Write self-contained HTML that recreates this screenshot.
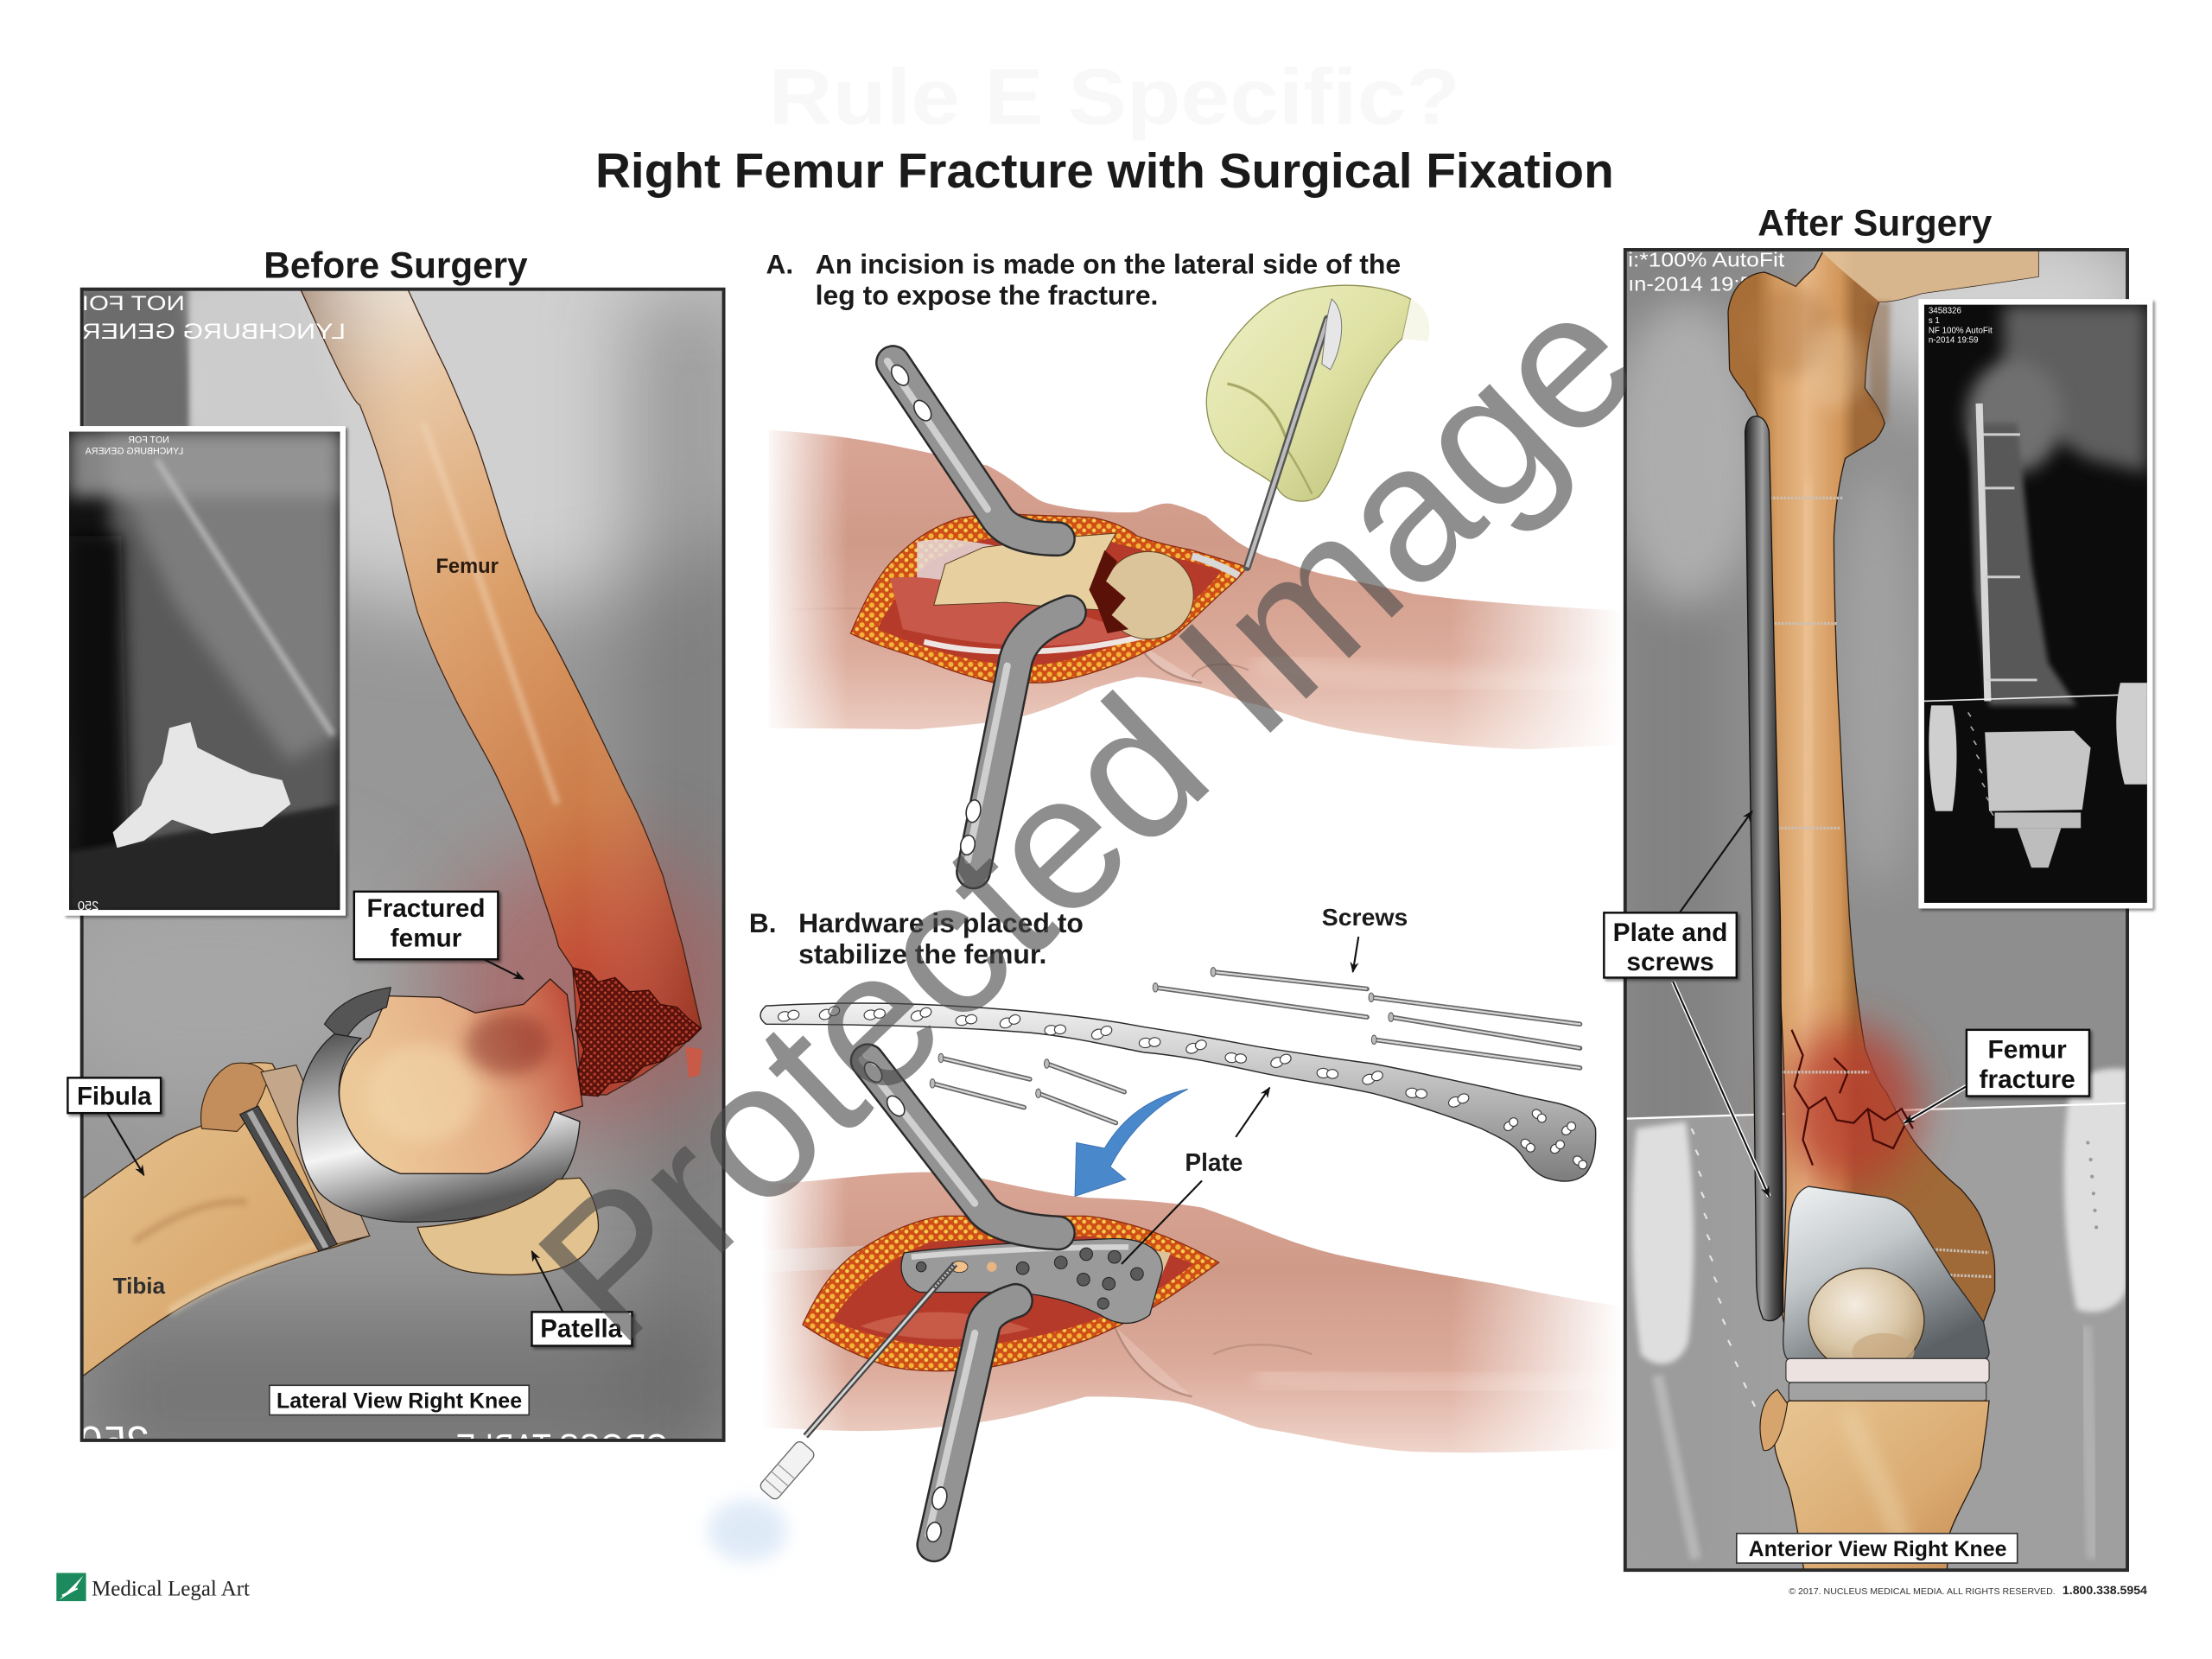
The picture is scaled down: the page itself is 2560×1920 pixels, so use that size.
<!DOCTYPE html>
<html><head><meta charset="utf-8"><style>
html,body{margin:0;padding:0;background:#fff;}
svg{display:block;}
text{font-family:"Liberation Sans",Arial,sans-serif;}
</style></head><body>
<svg width="2560" height="1920" viewBox="0 0 1568 1176" xmlns="http://www.w3.org/2000/svg">
<defs>
  <marker id="ah" viewBox="0 0 10 10" refX="9" refY="5" markerWidth="6" markerHeight="6" orient="auto"><path d="M0,1 L10,5 L0,9 L3,5 Z" fill="#111"/></marker>
  <filter id="b2" x="-20%" y="-20%" width="140%" height="140%"><feGaussianBlur stdDeviation="2"/></filter>
  <filter id="b6" x="-30%" y="-30%" width="160%" height="160%"><feGaussianBlur stdDeviation="6"/></filter>
  <filter id="b15" x="-50%" y="-50%" width="200%" height="200%"><feGaussianBlur stdDeviation="15"/></filter>
  <filter id="b30" x="-80%" y="-80%" width="260%" height="260%"><feGaussianBlur stdDeviation="30"/></filter>
  <filter id="sh" x="-10%" y="-10%" width="130%" height="140%"><feDropShadow dx="1.5" dy="1.5" stdDeviation="1" flood-color="#000" flood-opacity="0.45"/></filter>

  <linearGradient id="gFemL" x1="250" y1="207" x2="450" y2="740" gradientUnits="userSpaceOnUse">
    <stop offset="0" stop-color="#ebe2d6"/><stop offset="0.14" stop-color="#e6c29c"/>
    <stop offset="0.4" stop-color="#da9c64"/><stop offset="0.7" stop-color="#cc7c48"/>
    <stop offset="0.88" stop-color="#c24e36"/><stop offset="1" stop-color="#b03a2a"/>
  </linearGradient>
  <linearGradient id="gFemLx" x1="0" y1="0" x2="1" y2="0">
    <stop offset="0" stop-color="#5a2a10" stop-opacity="0.4"/><stop offset="0.3" stop-color="#fff" stop-opacity="0.1"/>
    <stop offset="0.7" stop-color="#fff" stop-opacity="0"/><stop offset="1" stop-color="#5a2a10" stop-opacity="0.25"/>
  </linearGradient>
  <linearGradient id="gCond" x1="0" y1="0.3" x2="1" y2="0">
    <stop offset="0" stop-color="#ecc898"/><stop offset="0.5" stop-color="#e4ac84"/><stop offset="1" stop-color="#b83c2c"/>
  </linearGradient>
  <linearGradient id="gMetal" x1="0" y1="0" x2="0.35" y2="1">
    <stop offset="0" stop-color="#4a4a4a"/><stop offset="0.4" stop-color="#bcbcbc"/><stop offset="0.62" stop-color="#f4f4f4"/><stop offset="1" stop-color="#5a5a5a"/>
  </linearGradient>
  <linearGradient id="gMetal2" x1="0" y1="0" x2="0.6" y2="1">
    <stop offset="0" stop-color="#f0f2f3"/><stop offset="0.45" stop-color="#c3c8cb"/><stop offset="1" stop-color="#5c6165"/>
  </linearGradient>
  <linearGradient id="gTan" x1="0" y1="0" x2="1" y2="1">
    <stop offset="0" stop-color="#e8c592"/><stop offset="0.6" stop-color="#daab72"/><stop offset="1" stop-color="#c48a52"/>
  </linearGradient>
  <linearGradient id="gFemR" x1="1245" y1="0" x2="1315" y2="0" gradientUnits="userSpaceOnUse">
    <stop offset="0" stop-color="#a86e38"/><stop offset="0.2" stop-color="#d59c62"/><stop offset="0.5" stop-color="#e8b886"/><stop offset="0.85" stop-color="#d1965a"/><stop offset="1" stop-color="#a06a38"/>
  </linearGradient>
  <linearGradient id="gPlateR" x1="0" y1="0" x2="1" y2="0">
    <stop offset="0" stop-color="#1e1e1e"/><stop offset="0.45" stop-color="#a0a0a0"/><stop offset="0.7" stop-color="#585858"/><stop offset="1" stop-color="#1a1a1a"/>
  </linearGradient>
  <linearGradient id="gSkinA" x1="0" y1="0" x2="0" y2="1">
    <stop offset="0" stop-color="#d9a595"/><stop offset="0.35" stop-color="#d09a88"/><stop offset="0.7" stop-color="#dcab9b"/><stop offset="1" stop-color="#efd4ca"/>
  </linearGradient>
  <linearGradient id="gFadeH" x1="540" y1="0" x2="1150" y2="0" gradientUnits="userSpaceOnUse">
    <stop offset="0" stop-color="#000"/><stop offset="0.1" stop-color="#fff"/><stop offset="0.8" stop-color="#fff"/><stop offset="1" stop-color="#000"/>
  </linearGradient>
  <mask id="mFade" maskUnits="userSpaceOnUse" x="0" y="0" width="1568" height="1176"><rect x="530" y="280" width="630" height="850" fill="url(#gFadeH)"/></mask>
  <pattern id="fat" width="7" height="7" patternUnits="userSpaceOnUse">
    <rect width="7" height="7" fill="#cf4d16"/><circle cx="2" cy="2" r="1.9" fill="#f3b238"/><circle cx="5.5" cy="5" r="1.4" fill="#f7cf55"/>
  </pattern>
  <pattern id="spong" width="5" height="5" patternUnits="userSpaceOnUse">
    <rect width="5" height="5" fill="#5a120c"/><circle cx="1.5" cy="1.5" r="1.1" fill="#b23a2a"/><circle cx="4" cy="3.8" r="0.9" fill="#c84a34"/>
  </pattern>
  <linearGradient id="gGlove" x1="0" y1="0" x2="1" y2="1">
    <stop offset="0" stop-color="#eef0c6"/><stop offset="0.5" stop-color="#dfe2a4"/><stop offset="1" stop-color="#b8bb72"/>
  </linearGradient>
  <linearGradient id="gLongPlate" x1="0" y1="0" x2="0" y2="1">
    <stop offset="0" stop-color="#f2f2f2"/><stop offset="0.5" stop-color="#b9b9b9"/><stop offset="1" stop-color="#7c7c7c"/>
  </linearGradient>
  <radialGradient id="gPat" cx="0.4" cy="0.35" r="0.7">
    <stop offset="0" stop-color="#f4ece0"/><stop offset="0.6" stop-color="#d9c6a6"/><stop offset="1" stop-color="#b49872"/>
  </radialGradient>
  <clipPath id="cpL"><rect x="58" y="205" width="455" height="816"/></clipPath>
  <clipPath id="cpIL"><rect x="49" y="306" width="192" height="339"/></clipPath>
  <clipPath id="cpR"><rect x="1152" y="177" width="356" height="936"/></clipPath>
  <clipPath id="cpIR"><rect x="1364" y="216" width="158" height="424"/></clipPath>
</defs>

<rect width="1568" height="1176" fill="#fff"/>

<!-- faint top watermark -->
<text x="545" y="88" font-size="56" font-weight="bold" fill="#f8f8f8" textLength="490" lengthAdjust="spacingAndGlyphs">Rule E Specific?</text>

<!-- Titles -->
<text x="422" y="133" font-size="34.5" font-weight="bold" fill="#1a1a1a" textLength="722" lengthAdjust="spacingAndGlyphs">Right Femur Fracture with Surgical Fixation</text>
<text x="187" y="197" font-size="26" font-weight="bold" fill="#1a1a1a" textLength="187" lengthAdjust="spacingAndGlyphs">Before Surgery</text>
<text x="1246" y="167" font-size="26" font-weight="bold" fill="#1a1a1a" textLength="166" lengthAdjust="spacingAndGlyphs">After Surgery</text>

<!-- ================= LEFT PANEL ================= -->
<g clip-path="url(#cpL)">
  <rect x="58" y="205" width="455" height="816" fill="#979797"/>
  <ellipse cx="340" cy="270" rx="250" ry="160" fill="#d0d0d0" filter="url(#b30)"/>
  <ellipse cx="150" cy="700" rx="140" ry="90" fill="#a6a6a6" filter="url(#b30)"/>
  <rect x="58" y="205" width="76" height="100" fill="#6c6c6c" filter="url(#b2)"/>
  <polygon points="134,205 215,205 248,320 150,320" fill="#cccccc" filter="url(#b6)"/>
  <rect x="445" y="205" width="90" height="816" fill="#666" opacity="0.5" filter="url(#b30)"/>
  <rect x="58" y="930" width="455" height="120" fill="#5c5c5c" opacity="0.55" filter="url(#b30)"/>
  <ellipse cx="420" cy="700" rx="110" ry="100" fill="#b05858" opacity="0.6" filter="url(#b30)"/>

  <!-- tibia -->
  <path d="M58,850 C85,830 110,812 127,804 L143,798 C150,790 155,772 162,760 C168,754 180,752 193,754 L262,876 L237,884 C215,890 190,897 160,910 C125,926 95,948 58,976 Z" fill="url(#gTan)" stroke="#3a2410" stroke-width="0.8"/>
  <path d="M95,880 C125,860 150,850 175,852" stroke="#b07a48" stroke-width="5" fill="none" opacity="0.45" filter="url(#b2)"/>
  <path d="M120,930 C160,905 200,890 230,880" stroke="#f2dcb8" stroke-width="6" fill="none" opacity="0.5" filter="url(#b2)"/>
  <!-- fibula head -->
  <path d="M143,800 C140,780 150,760 165,754 C178,752 186,756 190,764 C186,780 178,792 168,802 Z" fill="#c48e5c" stroke="#3a2410" stroke-width="0.7"/>
  <!-- insert & tray -->
  <polygon points="185,760 210,755 262,876 238,882" fill="#c4a68a" stroke="#3a2a1a" stroke-width="0.7"/>
  <polygon points="170,790 183,784 239,882 226,887" fill="#4a4a4a" stroke="#1e1e1e" stroke-width="0.7"/>
  <polygon points="175,789 179,787 233,884 229,885" fill="#a8a8a8"/>
  <!-- condyle -->
  <path d="M262,735 C268,722 272,712 275,706 L312,707 L337,718 L371,712 L390,694 L402,705 L413,784 L393,790 C385,810 370,826 345,832 L284,832 C266,826 252,812 245,795 C236,775 240,752 262,735 Z" fill="url(#gCond)" stroke="#2a1a10" stroke-width="0.8"/>
  <ellipse cx="300" cy="775" rx="40" ry="35" fill="#f4dcb0" opacity="0.55" filter="url(#b6)"/>
  <ellipse cx="360" cy="740" rx="30" ry="22" fill="#7a1e14" opacity="0.45" filter="url(#b6)"/>
  <!-- flange -->
  <path d="M230,726 C238,712 255,703 277,700 L274,714 C262,718 250,726 244,739 Z" fill="#555" stroke="#1e1e1e" stroke-width="0.7"/>
  <!-- femoral component -->
  <path d="M237,733 C222,745 212,765 211,790 C210,812 215,830 226,845 C240,860 270,868 302,866 C335,866 368,858 388,846 C402,835 409,820 411,795 L393,788 C385,810 370,826 345,832 L284,832 C266,826 252,812 245,795 C236,775 240,752 256,736 Z" fill="url(#gMetal)" stroke="#1e1e1e" stroke-width="0.8"/>
  <!-- patella -->
  <path d="M296,870 C330,868 370,858 395,836 L411,835 C420,845 425,860 424,872 C420,885 414,892 400,898 C385,904 360,905 335,902 C316,899 302,890 296,870 Z" fill="#e2c28e" stroke="#3a2410" stroke-width="0.8"/>

  <!-- femur shaft -->
  <path d="M213,205 C236,255 250,285 255,287 C268,320 276,345 279,365 C286,395 292,420 296,434 C305,460 315,480 323,496 C335,520 348,540 356,559 C366,580 374,600 380,621 C386,640 392,655 396,671 L406,686 L412,776 L430,776 L455,762 L480,745 L497,728 L484,671 C478,650 474,635 470,621 C460,595 452,575 443,559 C432,535 422,515 413,496 C400,470 390,450 380,434 C370,410 362,390 356,371 C348,345 342,325 336,309 C328,290 322,275 316,262 C305,240 296,220 289,205 Z" fill="url(#gFemL)" stroke="#3a1e10" stroke-width="0.8"/>
  <path d="M213,205 C236,255 250,285 255,287 C268,320 276,345 279,365 C286,395 292,420 296,434 C305,460 315,480 323,496 C335,520 348,540 356,559 C366,580 374,600 380,621 C386,640 392,655 396,671 L406,686 L412,776 L430,776 L455,762 L480,745 L497,728 L484,671 C478,650 474,635 470,621 C460,595 452,575 443,559 C432,535 422,515 413,496 C400,470 390,450 380,434 C370,410 362,390 356,371 C348,345 342,325 336,309 C328,290 322,275 316,262 C305,240 296,220 289,205 Z" fill="url(#gFemLx)"/>
  <path d="M300,300 C330,380 360,470 395,570" stroke="#f6dcc0" stroke-width="5" fill="none" opacity="0.45" filter="url(#b2)"/>
  <!-- fracture face -->
  <path d="M406,686 L418,689 L424,696 L436,693 L446,703 L460,702 L468,712 L480,714 L488,722 L497,729 L488,738 L478,742 L470,752 L456,756 L446,766 L432,768 L424,777 L412,776 L410,758 L414,744 L408,730 L412,712 Z" fill="url(#spong)" stroke="#3a0a06" stroke-width="0.8"/>
  <path d="M486,742 L498,744 L496,762 L488,764 Z" fill="#c85a48"/>
  <text x="309" y="406" font-size="14.5" font-weight="bold" fill="#2a1a10">Femur</text>
  <text x="80" y="917" font-size="16" font-weight="bold" fill="#2e2e2e">Tibia</text>

  <!-- mirrored xray text -->
  <text transform="translate(131,220) scale(-1,1)" font-size="15" fill="#fff" textLength="73" lengthAdjust="spacingAndGlyphs">NOT FOI</text>
  <text transform="translate(245,240) scale(-1,1)" font-size="15.5" fill="#fff" textLength="187" lengthAdjust="spacingAndGlyphs">LYNCHBURG GENER</text>
  <text transform="translate(106,1032) scale(-1,1)" font-size="30" fill="#fff">250</text>
  <text transform="translate(474,1034) scale(-1,1)" font-size="25" fill="#fff" textLength="151" lengthAdjust="spacingAndGlyphs">CROSS TABLE</text>
</g>
<rect x="58" y="205" width="455" height="816" fill="none" stroke="#2a2a2a" stroke-width="2.4"/>

<!-- left inset xray -->
<rect x="45" y="302" width="200" height="347" fill="#fff" filter="url(#sh)"/>
<rect x="49" y="306" width="192" height="339" fill="#121212"/>
<g clip-path="url(#cpIL)">
  <polygon points="75,306 241,306 241,600 150,612 62,640 55,560 80,420" fill="#5a5a5a" filter="url(#b6)"/>
  <polygon points="85,345 238,345 241,520 205,540 125,430" fill="#7c7c7c" filter="url(#b6)"/>
  <rect x="49" y="306" width="192" height="46" fill="#a2a2a2" opacity="0.8" filter="url(#b6)"/>
  <path d="M111,326 L236,521" stroke="#b8b8b8" stroke-width="4" filter="url(#b2)"/>
  <polygon points="49,380 86,380 92,630 49,630" fill="#080808" filter="url(#b6)"/>
  <polygon points="49,604 241,570 241,645 49,645" fill="#262626" filter="url(#b2)"/>
  <path d="M120,516 L135,512 L140,530 L160,540 L178,548 L200,553 L206,570 L186,586 L150,591 L122,581 L102,596 L83,601 L80,590 L100,571 L105,556 L115,541 Z" fill="#e6e6e6"/>
  <text transform="translate(120,314) scale(-1,1)" font-size="6.5" fill="#fff">NOT FOR</text>
  <text transform="translate(130,322) scale(-1,1)" font-size="6.5" fill="#fff">LYNCHBURG GENERA</text>
  <text transform="translate(70,645) scale(-1,1)" font-size="9" fill="#fff">250</text>
</g>

<!-- left labels -->
<g font-weight="bold" fill="#111" text-anchor="middle">
  <rect x="251" y="632" width="102" height="48" fill="#fff" stroke="#111" stroke-width="1.5" filter="url(#sh)"/>
  <text x="302" y="650" font-size="18.2">Fractured</text>
  <text x="302" y="671" font-size="18.2">femur</text>
  <rect x="48" y="764" width="66" height="25" fill="#fff" stroke="#111" stroke-width="1.5" filter="url(#sh)"/>
  <text x="81" y="783" font-size="18">Fibula</text>
  <rect x="377" y="930" width="71" height="24" fill="#fff" stroke="#111" stroke-width="1.5" filter="url(#sh)"/>
  <text x="412" y="948" font-size="18">Patella</text>
  <rect x="191" y="982" width="184" height="21" fill="#fff" stroke="#333" stroke-width="1"/>
  <text x="283" y="998" font-size="15.3" textLength="174" lengthAdjust="spacingAndGlyphs">Lateral View Right Knee</text>
</g>
<g stroke="#111" stroke-width="1.3" fill="none" marker-end="url(#ah)">
  <line x1="343" y1="680" x2="371" y2="694"/>
  <line x1="76" y1="789" x2="102" y2="833"/>
  <line x1="399" y1="930" x2="377" y2="887"/>
</g>

<!-- ================= MIDDLE A ================= -->
<text x="543" y="194" font-size="19.4" font-weight="bold" fill="#1a1a1a">A.</text>
<text x="578" y="194" font-size="19.4" font-weight="bold" fill="#1a1a1a" textLength="415" lengthAdjust="spacingAndGlyphs">An incision is made on the lateral side of the</text>
<text x="578" y="216" font-size="19.4" font-weight="bold" fill="#1a1a1a" textLength="243" lengthAdjust="spacingAndGlyphs">leg to expose the fracture.</text>

<g mask="url(#mFade)">
  <path d="M545,305 C610,308 660,322 700,330 C720,340 730,352 740,356 C760,362 790,364 806,363 C815,360 822,356 830,357 C842,360 850,364 855,366 C866,376 872,380 877,384 C890,392 900,396 904,396 C920,402 932,406 943,408 C970,414 990,418 1002,421 C1040,426 1080,429 1150,433 L1150,528 C1120,529 1100,531 1080,531 C1050,530 1030,528 1002,525 C980,522 970,520 962,519 C940,515 930,512 923,510 C905,504 895,500 884,498 C865,492 855,487 845,486 C825,482 815,480 806,480 C795,482 785,485 775,488 C750,500 730,508 709,511 C680,515 660,516 650,517 L545,516 Z" fill="url(#gSkinA)"/>
  <path d="M890,470 C950,480 1040,486 1150,484" stroke="#ecccc0" stroke-width="16" fill="none" opacity="0.6" filter="url(#b6)"/>
  <path d="M560,432 C600,431 640,431 680,432" stroke="#c99484" stroke-width="1.5" fill="none" opacity="0.6"/>
</g>
<path d="M806,455 C815,472 832,482 852,484" stroke="#b08478" stroke-width="1.5" fill="#efd6ce" fill-opacity="0.6" opacity="0.8"/>
<path d="M845,480 C850,470 870,468 885,475" stroke="#a87c70" stroke-width="1.2" fill="none" opacity="0.6"/>
<!-- incision A -->
<path d="M603,449 C615,420 625,405 634,396 C650,380 665,372 681,367 C700,364 715,364 728,365 C750,366 765,366 775,367 C790,370 800,375 806,380 C820,385 835,388 845,390 C865,396 875,399 884,402 C878,410 872,415 865,421 C850,435 840,445 830,453 C810,464 795,470 783,474 C765,480 750,484 736,484 C720,484 712,484 705,484 C680,478 665,472 650,466 C630,460 615,455 603,449 Z" fill="url(#fat)" stroke="#8a2a12" stroke-width="0.8"/>
<path d="M622,446 C632,425 645,410 660,398 C680,386 700,380 728,378 C760,378 790,384 810,390 C835,396 855,400 866,405 C852,422 835,437 815,447 C790,459 765,467 740,471 C700,474 660,462 622,446 Z" fill="#b53a2a"/>
<path d="M650,384 C670,380 690,384 712,388 L700,412 L650,412 Z" fill="#e6dcdc" opacity="0.85"/>
<path d="M631,410 C660,405 720,420 806,449 C760,462 700,460 640,446 Z" fill="#c8584a"/>
<path d="M655,455 C700,466 760,464 815,450" stroke="#eee4e2" stroke-width="4" fill="none"/>
<path d="M670,400 L697,388 L752,381 L791,378 L783,392 L775,412 L798,433 L752,431 L713,427 L662,429 Z" fill="#e7cf9f" stroke="#5a3a20" stroke-width="0.6"/>
<ellipse cx="814" cy="422" rx="32" ry="31" fill="#dcc49a" stroke="#5a3a20" stroke-width="0.6"/>
<path d="M783,390 L792,398 L784,412 L798,424 L788,436 L800,446 L785,449 L778,430 L772,418 Z" fill="#5a1208"/>
<path d="M845,394 C858,398 868,402 878,408" stroke="#d8d8d8" stroke-width="5" fill="none"/>
<!-- retractors A -->
<g fill="none" stroke-linecap="round" stroke-linejoin="round">
  <path d="M633,257 L706,366 Q716,382 750,382" stroke="#2a2a2a" stroke-width="25"/>
  <path d="M633,257 L706,366 Q716,382 750,382" stroke="#939393" stroke-width="22"/>
  <path d="M629,256 L700,361" stroke="#cfcfcf" stroke-width="5"/>
  <path d="M758,434 Q726,445 720,468 L690,618" stroke="#2a2a2a" stroke-width="25"/>
  <path d="M758,434 Q726,445 720,468 L690,618" stroke="#939393" stroke-width="22"/>
  <path d="M714,472 L686,610" stroke="#cfcfcf" stroke-width="5"/>
</g>
<g fill="#fff" stroke="#333" stroke-width="1">
  <ellipse cx="638" cy="266" rx="5" ry="8" transform="rotate(-34 638 266)"/>
  <ellipse cx="654" cy="291" rx="5" ry="8" transform="rotate(-34 654 291)"/>
  <ellipse cx="690" cy="575" rx="5" ry="8" transform="rotate(11 690 575)"/>
  <ellipse cx="686" cy="599" rx="5" ry="7" transform="rotate(11 686 599)"/>
</g>
<!-- hand & scalpel -->
<path d="M905,212 C930,200 975,198 1000,212 L994,240 C978,255 966,276 958,300 C951,320 945,340 935,352 C925,358 910,356 905,345 C895,336 880,330 868,320 C856,306 852,286 858,268 C866,248 885,224 905,212 Z" fill="url(#gGlove)" stroke="#8c8e52" stroke-width="0.8"/>
<path d="M870,272 C890,276 905,290 912,312" stroke="#a8aa68" stroke-width="2" fill="none"/>
<path d="M912,318 C920,330 925,340 930,350" stroke="#a8aa68" stroke-width="1.5" fill="none"/>
<path d="M1000,212 C1010,216 1016,228 1012,242 L994,240 Z" fill="#f4f4e4" opacity="0.8"/>
<path d="M941,226 L884,402" stroke="#555" stroke-width="5.5" stroke-linecap="round"/>
<path d="M941,226 L884,402" stroke="#bcbcbc" stroke-width="2.6"/>
<path d="M944,212 C954,220 953,244 943,262 L937,258 C939,240 940,224 944,212 Z" fill="#e6e6e6" stroke="#777" stroke-width="0.6"/>

<!-- ================= MIDDLE B ================= -->
<text x="531" y="661" font-size="19.4" font-weight="bold" fill="#1a1a1a">B.</text>
<text x="566" y="661" font-size="19.4" font-weight="bold" fill="#1a1a1a" textLength="202" lengthAdjust="spacingAndGlyphs">Hardware is placed to</text>
<text x="566" y="683" font-size="19.4" font-weight="bold" fill="#1a1a1a" textLength="176" lengthAdjust="spacingAndGlyphs">stabilize the femur.</text>
<text x="937" y="656" font-size="17" font-weight="bold" fill="#1a1a1a" textLength="61" lengthAdjust="spacingAndGlyphs">Screws</text>

<!-- leg B -->
<g mask="url(#mFade)">
  <path d="M540,840 C600,836 640,828 680,832 C710,838 740,846 770,849 C800,850 830,852 852,856 C870,862 885,868 892,871 C910,878 930,886 960,892 C1000,900 1030,905 1060,910 C1095,917 1120,922 1150,926 L1150,1027 C1100,1028 1060,1031 1000,1029 C960,1026 930,1018 892,1012 C870,1005 850,995 831,993 C800,990 785,990 770,990 C740,998 720,1005 689,1009 C650,1014 620,1015 590,1014 L540,1012 Z" fill="url(#gSkinA)"/>
  <path d="M890,975 C950,982 1040,985 1150,982" stroke="#eccbbf" stroke-width="16" fill="none" opacity="0.6" filter="url(#b6)"/>
  <path d="M540,886 L640,882 L640,898 L540,902 Z" fill="#d8d8d8" opacity="0.45"/>
</g>
<path d="M790,940 C800,965 820,985 845,990" stroke="#a88070" stroke-width="1.5" fill="#efd6ce" fill-opacity="0.5" opacity="0.7"/>
<path d="M860,960 C880,950 910,952 930,960" stroke="#b88a7c" stroke-width="1.5" fill="none" opacity="0.7"/>
<!-- incision B -->
<path d="M569,939 C580,915 590,900 608,887 C630,873 650,864 669,862 L770,862 C800,865 835,878 864,895 C850,905 840,912 831,918 C810,932 790,942 770,950 C740,960 715,968 689,971 C660,973 640,971 628,968 C605,960 585,950 569,939 Z" fill="url(#fat)" stroke="#8a2a12" stroke-width="0.8"/>
<path d="M590,936 C605,912 625,895 660,880 L770,876 C800,880 828,888 846,896 C826,912 805,925 775,936 C740,948 700,955 670,955 C640,953 612,946 590,936 Z" fill="#b53a2a"/>
<path d="M610,940 C650,925 690,928 730,942 C690,952 645,952 610,940 Z" fill="#c85a48"/>
<path d="M740,880 C770,878 800,884 830,888 L820,912 C795,918 770,914 750,905 Z" fill="#dcc49a"/>
<!-- plate in wound -->
<path d="M641,888 C690,882 740,880 790,878 C815,878 824,888 824,900 L815,932 C805,940 792,940 780,932 C760,922 740,918 720,916 L652,916 C640,912 636,900 641,888 Z" fill="#9a9a9a" stroke="#222" stroke-width="0.8"/>
<path d="M646,891 C700,886 760,884 800,884" stroke="#d4d4d4" stroke-width="4" fill="none"/>
<g fill="#5a5a5a" stroke="#222" stroke-width="0.6">
  <circle cx="752" cy="895" r="4.5"/><circle cx="770" cy="889" r="4.5"/><circle cx="790" cy="891" r="4.5"/>
  <circle cx="768" cy="907" r="4.5"/><circle cx="786" cy="910" r="4.5"/><circle cx="806" cy="903" r="4.5"/>
  <circle cx="782" cy="924" r="4"/><circle cx="725" cy="899" r="4.5"/><circle cx="653" cy="898" r="3.5"/>
</g>
<ellipse cx="680" cy="898" rx="6" ry="4" fill="#f2c089" stroke="#333" stroke-width="0.5"/>
<circle cx="703" cy="898" r="3.5" fill="#e8b483"/>
<!-- retractors B -->
<g fill="none" stroke-linecap="round" stroke-linejoin="round">
  <path d="M615,752 L697,858 Q710,872 750,874" stroke="#2a2a2a" stroke-width="25"/>
  <path d="M615,752 L697,858 Q710,872 750,874" stroke="#939393" stroke-width="22"/>
  <path d="M611,751 L691,853" stroke="#cfcfcf" stroke-width="5"/>
  <path d="M720,922 Q700,928 697,940 L662,1095" stroke="#2a2a2a" stroke-width="25"/>
  <path d="M720,922 Q700,928 697,940 L662,1095" stroke="#939393" stroke-width="22"/>
  <path d="M691,945 L658,1088" stroke="#cfcfcf" stroke-width="5"/>
</g>
<g fill="#fff" stroke="#333" stroke-width="1">
  <ellipse cx="619" cy="760" rx="5" ry="8" transform="rotate(-36 619 760)"/>
  <ellipse cx="635" cy="784" rx="5" ry="8" transform="rotate(-36 635 784)"/>
  <ellipse cx="666" cy="1062" rx="5" ry="8" transform="rotate(13 666 1062)"/>
  <ellipse cx="662" cy="1086" rx="5" ry="7" transform="rotate(13 662 1086)"/>
</g>
<!-- screwdriver -->
<line x1="677" y1="896" x2="571" y2="1018" stroke="#444" stroke-width="4.5"/>
<line x1="677" y1="896" x2="571" y2="1018" stroke="#d4d4d4" stroke-width="1.8"/>
<path d="M662,913 L677,896" stroke="#555" stroke-width="3" stroke-dasharray="1.5 1"/>
<ellipse cx="530" cy="1085" rx="28" ry="22" fill="#cfe0f4" opacity="0.65" filter="url(#b6)"/>
<g transform="rotate(-49 560 1040)">
  <rect x="535" y="1032" width="44" height="16" rx="4" fill="#f2f2f2" stroke="#666" stroke-width="0.8"/>
  <line x1="542" y1="1032" x2="542" y2="1048" stroke="#999" stroke-width="0.8"/>
  <line x1="549" y1="1032" x2="549" y2="1048" stroke="#999" stroke-width="0.8"/>
  <line x1="556" y1="1032" x2="556" y2="1048" stroke="#999" stroke-width="0.8"/>
</g>

<!-- long plate -->
<path d="M543,713 C600,710 650,710 730,717 C770,721 790,724 811,728 C850,734 870,738 892,742 C930,748 950,751 973,754 C1010,761 1035,767 1055,771 C1075,776 1090,779 1104,782 Q1128,788 1131,800 Q1132,822 1124,832 Q1115,840 1100,836 Q1088,834 1078,818 C1072,810 1062,806 1050,800 C1030,792 1000,782 973,775 C940,768 915,765 892,760 C860,753 835,748 811,746 C780,740 760,735 730,732 C680,728 620,726 543,726 Q535,720 543,713 Z" fill="url(#gLongPlate)" stroke="#2a2a2a" stroke-width="0.9"/>
<g fill="#fff" stroke="#3a3a3a" stroke-width="0.7">
  <g transform="translate(559,720) rotate(-10)"><ellipse cx="-3" cy="0" rx="4.5" ry="3.4"/><ellipse cx="3.5" cy="0" rx="4" ry="3.2"/></g>
  <g transform="translate(588,718) rotate(-22)"><ellipse cx="-3" cy="0" rx="4.5" ry="3.4"/><ellipse cx="3.5" cy="0" rx="4" ry="3.2"/></g>
  <g transform="translate(620,719) rotate(-8)"><ellipse cx="-3" cy="0" rx="4.5" ry="3.4"/><ellipse cx="3.5" cy="0" rx="4" ry="3.2"/></g>
  <g transform="translate(653,719) rotate(-22)"><ellipse cx="-3" cy="0" rx="4.5" ry="3.4"/><ellipse cx="3.5" cy="0" rx="4" ry="3.2"/></g>
  <g transform="translate(685,723) rotate(-8)"><ellipse cx="-3" cy="0" rx="4.5" ry="3.4"/><ellipse cx="3.5" cy="0" rx="4" ry="3.2"/></g>
  <g transform="translate(716,724) rotate(-22)"><ellipse cx="-3" cy="0" rx="4.5" ry="3.4"/><ellipse cx="3.5" cy="0" rx="4" ry="3.2"/></g>
  <g transform="translate(748,730) rotate(-5)"><ellipse cx="-3" cy="0" rx="4.5" ry="3.4"/><ellipse cx="3.5" cy="0" rx="4" ry="3.2"/></g>
  <g transform="translate(781,732) rotate(-22)"><ellipse cx="-3" cy="0" rx="4.5" ry="3.4"/><ellipse cx="3.5" cy="0" rx="4" ry="3.2"/></g>
  <g transform="translate(815,739) rotate(-5)"><ellipse cx="-3" cy="0" rx="4.5" ry="3.4"/><ellipse cx="3.5" cy="0" rx="4" ry="3.2"/></g>
  <g transform="translate(848,742) rotate(-22)"><ellipse cx="-3" cy="0" rx="4.5" ry="3.4"/><ellipse cx="3.5" cy="0" rx="4" ry="3.2"/></g>
  <g transform="translate(876,750) rotate(5)"><ellipse cx="-3" cy="0" rx="4.5" ry="3.4"/><ellipse cx="3.5" cy="0" rx="4" ry="3.2"/></g>
  <g transform="translate(908,752) rotate(-22)"><ellipse cx="-3" cy="0" rx="4.5" ry="3.4"/><ellipse cx="3.5" cy="0" rx="4" ry="3.2"/></g>
  <g transform="translate(941,761) rotate(5)"><ellipse cx="-3" cy="0" rx="4.5" ry="3.4"/><ellipse cx="3.5" cy="0" rx="4" ry="3.2"/></g>
  <g transform="translate(973,764) rotate(-22)"><ellipse cx="-3" cy="0" rx="4.5" ry="3.4"/><ellipse cx="3.5" cy="0" rx="4" ry="3.2"/></g>
  <g transform="translate(1004,775) rotate(5)"><ellipse cx="-3" cy="0" rx="4.5" ry="3.4"/><ellipse cx="3.5" cy="0" rx="4" ry="3.2"/></g>
  <g transform="translate(1034,780) rotate(-22)"><ellipse cx="-3" cy="0" rx="4.5" ry="3.4"/><ellipse cx="3.5" cy="0" rx="4" ry="3.2"/></g>
  <g transform="translate(1071,797) rotate(-40)"><ellipse cx="-2" cy="0" rx="3.5" ry="3"/><ellipse cx="2.5" cy="0" rx="3" ry="3"/></g>
  <g transform="translate(1091,791) rotate(40)"><ellipse cx="-2" cy="0" rx="3.5" ry="3"/><ellipse cx="2.5" cy="0" rx="3" ry="3"/></g>
  <g transform="translate(1112,800) rotate(-40)"><ellipse cx="-2" cy="0" rx="3.5" ry="3"/><ellipse cx="2.5" cy="0" rx="3" ry="3"/></g>
  <g transform="translate(1083,812) rotate(40)"><ellipse cx="-2" cy="0" rx="3.5" ry="3"/><ellipse cx="2.5" cy="0" rx="3" ry="3"/></g>
  <g transform="translate(1104,813) rotate(-40)"><ellipse cx="-2" cy="0" rx="3.5" ry="3"/><ellipse cx="2.5" cy="0" rx="3" ry="3"/></g>
  <g transform="translate(1120,824) rotate(40)"><ellipse cx="-2" cy="0" rx="3.5" ry="3"/><ellipse cx="2.5" cy="0" rx="3" ry="3"/></g>
</g>
<!-- screws -->
<g stroke-linecap="round">
  <g stroke="#666" stroke-width="3.4">
    <line x1="860" y1="689" x2="969" y2="701"/><line x1="819" y1="700" x2="969" y2="721"/>
    <line x1="972" y1="707" x2="1120" y2="726"/><line x1="986" y1="721" x2="1120" y2="743"/>
    <line x1="974" y1="737" x2="1120" y2="757"/>
    <line x1="667" y1="750" x2="730" y2="765"/><line x1="661" y1="768" x2="726" y2="785"/>
    <line x1="742" y1="754" x2="797" y2="774"/><line x1="736" y1="775" x2="791" y2="796"/>
  </g>
  <g stroke="#d6d6d6" stroke-width="1.4" stroke-dasharray="1.2 0.8">
    <line x1="860" y1="689" x2="969" y2="701"/><line x1="819" y1="700" x2="969" y2="721"/>
    <line x1="972" y1="707" x2="1120" y2="726"/><line x1="986" y1="721" x2="1120" y2="743"/>
    <line x1="974" y1="737" x2="1120" y2="757"/>
    <line x1="667" y1="750" x2="730" y2="765"/><line x1="661" y1="768" x2="726" y2="785"/>
    <line x1="742" y1="754" x2="797" y2="774"/><line x1="736" y1="775" x2="791" y2="796"/>
  </g>
  <g fill="#bbb" stroke="#555" stroke-width="0.6">
    <ellipse cx="860" cy="689" rx="1.8" ry="3.2"/><ellipse cx="819" cy="700" rx="1.8" ry="3.2"/>
    <ellipse cx="972" cy="707" rx="1.8" ry="3.2"/><ellipse cx="986" cy="721" rx="1.8" ry="3.2"/>
    <ellipse cx="974" cy="737" rx="1.8" ry="3.2"/><ellipse cx="667" cy="750" rx="1.8" ry="3.2"/>
    <ellipse cx="661" cy="768" rx="1.8" ry="3.2"/><ellipse cx="742" cy="754" rx="1.8" ry="3.2"/>
    <ellipse cx="736" cy="775" rx="1.8" ry="3.2"/>
  </g>
</g>
<!-- blue arrow -->
<path d="M842,772 C815,778 796,792 783,814 L763,810 L762,848 L798,836 L787,827 C798,806 815,786 842,772 Z" fill="#4a88cc" stroke="#3a70b0" stroke-width="0.6"/>

<text x="840" y="830" font-size="17.5" font-weight="bold" fill="#1a1a1a" textLength="41" lengthAdjust="spacingAndGlyphs">Plate</text>
<g stroke="#111" stroke-width="1.3" fill="none">
  <line x1="963" y1="664" x2="959" y2="689" marker-end="url(#ah)"/>
  <line x1="876" y1="806" x2="900" y2="771" marker-end="url(#ah)"/>
  <line x1="852" y1="837" x2="795" y2="896"/>
</g>

<!-- ================= RIGHT PANEL ================= -->
<g clip-path="url(#cpR)">
  <rect x="1152" y="177" width="356" height="936" fill="#8e8e8e"/>
  <rect x="1152" y="177" width="70" height="936" fill="#7a7a7a" opacity="0.6" filter="url(#b15)"/>
  <ellipse cx="1195" cy="320" rx="55" ry="110" fill="#b8b8b8" opacity="0.8" filter="url(#b15)"/>
  <ellipse cx="1420" cy="215" rx="120" ry="70" fill="#d2d2d2" filter="url(#b30)"/>
  <ellipse cx="1330" cy="480" rx="30" ry="150" fill="#a6a6a6" opacity="0.8" filter="url(#b15)"/>
  <polygon points="1152,793 1508,782 1508,1113 1152,1113" fill="#a4a4a4" opacity="0.75"/>
  <path d="M1160,800 C1155,850 1156,910 1163,960 C1175,972 1192,968 1197,950 C1202,900 1202,845 1195,795 Z" fill="#dedede" filter="url(#b2)"/>
  <path d="M1468,770 C1460,810 1462,880 1472,928 C1488,934 1505,926 1508,912 L1508,758 C1492,756 1476,760 1468,770 Z" fill="#dedede" filter="url(#b2)"/>
  <path d="M1175,975 C1182,1010 1192,1055 1202,1105" stroke="#c8c8c8" stroke-width="8" fill="none" opacity="0.6" filter="url(#b2)"/>
  <path d="M1478,940 C1480,990 1482,1050 1484,1105" stroke="#bdbdbd" stroke-width="10" fill="none" opacity="0.6" filter="url(#b2)"/>
  <g stroke="#e6e6e6" stroke-width="1.3">
    <line x1="1199" y1="800" x2="1201" y2="804"/><line x1="1202" y1="815" x2="1204" y2="819"/>
    <line x1="1204" y1="830" x2="1206" y2="834"/><line x1="1206" y1="845" x2="1208" y2="849"/>
    <line x1="1208" y1="860" x2="1210" y2="864"/><line x1="1210" y1="875" x2="1212" y2="879"/>
    <line x1="1212" y1="890" x2="1214" y2="894"/><line x1="1215" y1="905" x2="1217" y2="909"/>
    <line x1="1218" y1="920" x2="1220" y2="924"/><line x1="1221" y1="935" x2="1223" y2="939"/>
    <line x1="1225" y1="950" x2="1227" y2="954"/><line x1="1230" y1="965" x2="1232" y2="969"/>
    <line x1="1236" y1="980" x2="1238" y2="984"/><line x1="1242" y1="993" x2="1244" y2="997"/>
  </g>
  <g fill="#9a9a9a">
    <circle cx="1480" cy="810" r="1.3"/><circle cx="1482" cy="822" r="1.3"/><circle cx="1483" cy="834" r="1.3"/>
    <circle cx="1484" cy="846" r="1.3"/><circle cx="1485" cy="858" r="1.3"/><circle cx="1486" cy="870" r="1.3"/>
  </g>
  <line x1="1152" y1="793" x2="1508" y2="782" stroke="#fff" stroke-width="1.4"/>
  <text x="1154" y="189" font-size="14" fill="#fff" textLength="111" lengthAdjust="spacingAndGlyphs">i:*100% AutoFit</text>
  <text x="1154" y="206" font-size="14" fill="#fff" textLength="88" lengthAdjust="spacingAndGlyphs">ın-2014 19:5</text>

  <!-- femur right -->
  <path d="M1225,221 C1226,212 1230,203 1237,198 C1243,194 1248,193 1251,193 C1260,196 1266,200 1273,203 C1278,197 1283,193 1286,190 L1293,177 L1445,177 L1445,196 C1420,200 1390,204 1362,208 C1350,212 1340,214 1332,214 C1326,230 1323,250 1322,275 C1326,282 1332,287 1336,300 C1334,306 1331,310 1329,312 C1320,318 1312,322 1308,325 C1304,340 1301,360 1300,380 C1300,420 1302,480 1304,515 C1306,560 1309,609 1311,650 C1314,690 1318,720 1322,743 C1328,760 1333,770 1337,774 C1345,790 1352,803 1359,812 C1370,825 1380,835 1390,843 C1398,852 1404,860 1406,868 C1411,880 1414,890 1414,900 L1414,915 L1406,937 L1270,965 L1263,930 C1264,900 1266,870 1266,840 C1266,760 1262,700 1258,650 C1255,560 1252,450 1252,330 C1251,318 1249,310 1249,306 C1247,298 1246,294 1244,290 C1241,285 1238,281 1237,278 C1232,272 1228,267 1226,262 Z" fill="url(#gFemR)" stroke="#2a1a0e" stroke-width="0.8"/>
  <path d="M1290,177 L1445,177 L1445,196 C1420,200 1390,204 1362,208 C1350,212 1340,214 1332,214 C1322,205 1305,192 1290,177 Z" fill="#e2c39c" opacity="0.85"/>
  <path d="M1322,214 L1340,214 L1338,300 L1326,290 Z" fill="#8a5a30" opacity="0.45" filter="url(#b2)"/>
  <ellipse cx="1268" cy="235" rx="32" ry="32" fill="#b27a46" opacity="0.45" filter="url(#b6)"/>
  <ellipse cx="1300" cy="260" rx="20" ry="30" fill="#f0d4b0" opacity="0.35" filter="url(#b6)"/>
  <path d="M1280,340 L1284,700" stroke="#f6dcba" stroke-width="12" opacity="0.3" filter="url(#b6)"/>
  <!-- fracture zone -->
  <ellipse cx="1312" cy="785" rx="48" ry="58" fill="#b83e2e" opacity="0.8" filter="url(#b15)"/>
  <g stroke="#4a0a06" stroke-width="1.4" fill="none">
    <path d="M1270,730 L1278,748 L1272,770 L1282,786 L1294,778 L1302,794 L1314,796 L1324,786 L1336,794 L1348,786 L1356,800"/>
    <path d="M1282,786 L1278,808 L1285,826"/>
    <path d="M1324,786 L1328,808 L1342,814 L1350,798"/>
    <path d="M1300,750 L1310,760 L1304,775"/>
  </g>
  <!-- screws through shaft -->
  <g stroke="#c8c0b8" stroke-width="2" stroke-dasharray="1.5 1">
    <line x1="1252" y1="353" x2="1306" y2="353"/><line x1="1253" y1="442" x2="1303" y2="442"/>
    <line x1="1255" y1="587" x2="1305" y2="587"/><line x1="1262" y1="760" x2="1325" y2="760"/>
    <line x1="1275" y1="880" x2="1410" y2="888"/><line x1="1275" y1="900" x2="1412" y2="905"/>
  </g>
  <!-- plate -->
  <path d="M1237,306 Q1238,295 1245,295 Q1252,296 1254,306 L1262,650 L1264,930 Q1258,939 1250,935 Q1245,925 1245,905 L1242,650 Z" fill="url(#gPlateR)" stroke="#111" stroke-width="0.8"/>
  <!-- knee component -->
  <path d="M1268,868 Q1270,845 1282,841 L1337,849 Q1350,853 1356,862 L1383,905 Q1398,925 1406,937 L1410,958 Q1410,964 1404,964 L1268,964 Q1264,962 1264,950 Z" fill="url(#gMetal2)" stroke="#2a2a2a" stroke-width="0.8"/>
  <!-- patella -->
  <ellipse cx="1323" cy="936" rx="41" ry="37" fill="url(#gPat)" stroke="#3a2a1a" stroke-width="0.8"/>
  <ellipse cx="1335" cy="958" rx="22" ry="13" fill="#c9ab84" opacity="0.75"/>
  <!-- insert & tray -->
  <rect x="1266" y="963" width="144" height="17" rx="3" fill="#ece2e0" stroke="#333" stroke-width="0.7"/>
  <rect x="1268" y="980" width="140" height="13" rx="2" fill="#a2a2a2" stroke="#333" stroke-width="0.7"/>
  <!-- tibia -->
  <path d="M1268,993 L1410,993 C1408,1015 1405,1030 1404,1040 C1395,1060 1386,1075 1382,1087 L1380,1115 L1279,1115 C1275,1090 1272,1070 1268,1055 C1262,1040 1258,1030 1258,1024 C1258,1010 1262,1000 1268,993 Z" fill="url(#gTan)" stroke="#2a1a0e" stroke-width="0.8"/>
  <path d="M1310,1000 C1325,1040 1340,1060 1348,1095" stroke="#f0dcb4" stroke-width="12" fill="none" opacity="0.5" filter="url(#b6)"/>
  <path d="M1260,985 C1248,992 1245,1010 1250,1028 C1258,1030 1264,1015 1267,995 Z" fill="#d6a46c" stroke="#2a1a0e" stroke-width="0.7"/>
</g>
<rect x="1152" y="177" width="356" height="936" fill="none" stroke="#2a2a2a" stroke-width="2.4"/>

<!-- right inset -->
<rect x="1360" y="212" width="166" height="432" fill="#fff" filter="url(#sh)"/>
<rect x="1364" y="216" width="158" height="424" fill="#0c0c0c"/>
<g clip-path="url(#cpIR)">
  <polygon points="1420,216 1522,216 1522,335 1480,325 1440,300 1420,285" fill="#5e5e5e" filter="url(#b6)"/>
  <ellipse cx="1428" cy="295" rx="34" ry="40" fill="#707070" filter="url(#b6)"/>
  <polygon points="1396,300 1430,300 1440,400 1452,470 1472,500 1410,500 1400,420" fill="#585858" filter="url(#b2)"/>
  <path d="M1403,286 L1409,497" stroke="#d6d6d6" stroke-width="5"/>
  <g stroke="#cfcfcf" stroke-width="1.8">
    <line x1="1406" y1="308" x2="1432" y2="308"/><line x1="1406" y1="346" x2="1428" y2="346"/>
    <line x1="1407" y1="409" x2="1432" y2="409"/><line x1="1408" y1="482" x2="1444" y2="482"/>
  </g>
  <line x1="1364" y1="497" x2="1522" y2="492" stroke="#eee" stroke-width="1"/>
  <path d="M1369,500 C1366,520 1367,555 1372,575 L1384,575 C1388,550 1388,520 1384,500 Z" fill="#cfcfcf"/>
  <path d="M1503,484 C1498,505 1500,535 1506,556 L1522,556 L1522,484 Z" fill="#cfcfcf"/>
  <path d="M1407,519 L1470,518 L1482,530 L1476,574 L1410,575 Z" fill="#c6c6c6"/>
  <rect x="1414" y="576" width="61" height="11" fill="#bdbdbd"/>
  <path d="M1430,587 L1461,587 L1452,615 L1440,615 Z" fill="#bdbdbd"/>
  <g stroke="#aaa" stroke-width="1"><line x1="1395" y1="505" x2="1397" y2="508"/><line x1="1397" y1="515" x2="1399" y2="518"/><line x1="1399" y1="525" x2="1401" y2="528"/><line x1="1401" y1="535" x2="1403" y2="538"/><line x1="1403" y1="545" x2="1405" y2="548"/><line x1="1405" y1="555" x2="1407" y2="558"/><line x1="1408" y1="565" x2="1410" y2="568"/><line x1="1411" y1="575" x2="1413" y2="578"/></g>
  <text x="1367" y="222" font-size="6" fill="#fff">3458326</text>
  <text x="1367" y="229" font-size="6" fill="#fff">s 1</text>
  <text x="1367" y="236" font-size="6" fill="#fff">NF 100% AutoFit</text>
  <text x="1367" y="243" font-size="6" fill="#fff">n-2014 19:59</text>
</g>

<!-- right labels -->
<g stroke="#fff" stroke-width="3" fill="none">
  <line x1="1186" y1="696" x2="1254" y2="848"/>
  <line x1="1394" y1="770" x2="1350" y2="796"/>
</g>
<g stroke="#111" stroke-width="1.3" fill="none" marker-end="url(#ah)">
  <line x1="1187" y1="652" x2="1242" y2="575"/>
  <line x1="1186" y1="696" x2="1254" y2="848"/>
  <line x1="1394" y1="770" x2="1350" y2="796"/>
</g>
<g font-weight="bold" fill="#111" text-anchor="middle">
  <rect x="1137" y="647" width="94" height="46" fill="#fff" stroke="#111" stroke-width="1.5" filter="url(#sh)"/>
  <text x="1184" y="667" font-size="18.3">Plate and</text>
  <text x="1184" y="688" font-size="18.3">screws</text>
  <rect x="1394" y="730" width="87" height="47" fill="#fff" stroke="#111" stroke-width="1.5" filter="url(#sh)"/>
  <text x="1437" y="750" font-size="18.3">Femur</text>
  <text x="1437" y="771" font-size="18.3">fracture</text>
  <rect x="1231" y="1087" width="199" height="21" fill="#fff" stroke="#333" stroke-width="1"/>
  <text x="1331" y="1103" font-size="15.3" textLength="183" lengthAdjust="spacingAndGlyphs">Anterior View Right Knee</text>
</g>

<!-- footer -->
<rect x="40" y="1115" width="21" height="20" fill="#1c8a5c"/>
<path d="M42,1134 L59,1117 L52,1128 Z" fill="#fff"/>
<path d="M44,1131 L55,1126" stroke="#fff" stroke-width="1.2"/>
<text x="65" y="1131" font-size="15.5" fill="#222" textLength="112" lengthAdjust="spacingAndGlyphs" style="font-family:'Liberation Serif',serif">Medical Legal Art</text>
<text x="1268" y="1130" font-size="6.4" fill="#333" textLength="189" lengthAdjust="spacingAndGlyphs">© 2017. NUCLEUS MEDICAL MEDIA. ALL RIGHTS RESERVED.</text>
<text x="1462" y="1130" font-size="8.6" font-weight="bold" fill="#222" textLength="60" lengthAdjust="spacingAndGlyphs">1.800.338.5954</text>

<!-- Protected Image watermark -->
<text x="803" y="612" font-size="137" fill="#4a4a4a" opacity="0.62" text-anchor="middle" transform="rotate(-43.5 803 612)">Protected Image</text>
</svg>
</body></html>
